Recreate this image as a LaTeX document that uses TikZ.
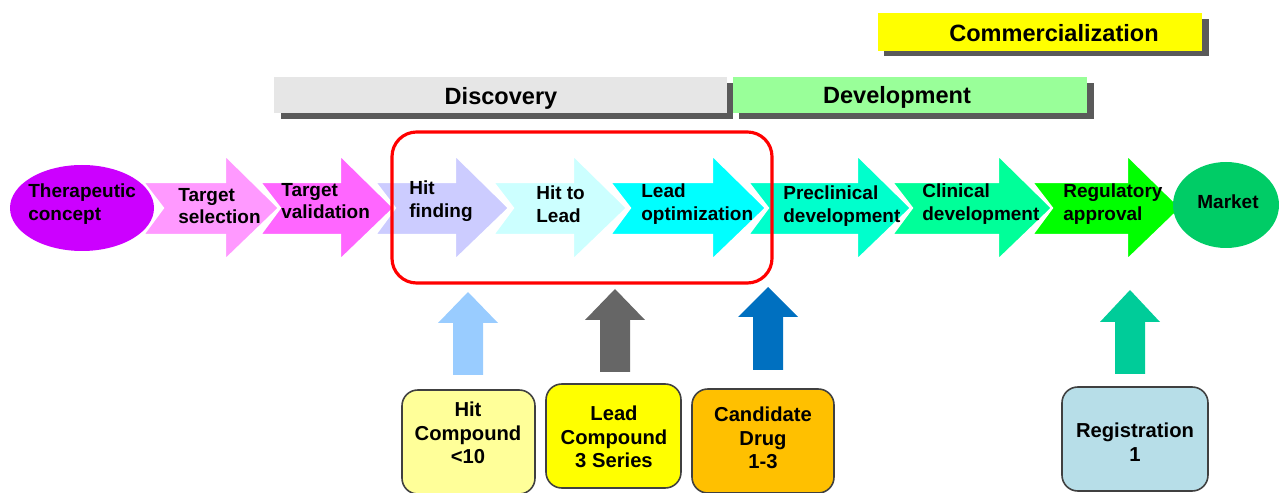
\documentclass[tikz,border=0pt]{standalone}
\usepackage{fontspec}
\setmainfont{Liberation Sans}

\definecolor{conceptcol}{HTML}{CC00FF}
\definecolor{selcol}{HTML}{FF99FF}
\definecolor{valcol}{HTML}{FF66FF}
\definecolor{hitcol}{HTML}{CCCCFF}
\definecolor{h2lcol}{HTML}{CCFFFF}
\definecolor{optcol}{HTML}{00FFFF}
\definecolor{precol}{HTML}{00FFCC}
\definecolor{clincol}{HTML}{00FF99}
\definecolor{regcol}{HTML}{00FF00}
\definecolor{marketcol}{HTML}{00CC66}
\definecolor{discol}{HTML}{E6E6E6}
\definecolor{devcol}{HTML}{99FF99}
\definecolor{comcol}{HTML}{FFFF00}
\definecolor{shadowcol}{HTML}{5A5A5A}
\definecolor{uphit}{HTML}{99CCFF}
\definecolor{uplead}{HTML}{666666}
\definecolor{upcand}{HTML}{0070C0}
\definecolor{upreg}{HTML}{00CC99}
\definecolor{hitbox}{HTML}{FFFF99}
\definecolor{leadbox}{HTML}{FFFF00}
\definecolor{candbox}{HTML}{FFC000}
\definecolor{regbox}{HTML}{B7DEE8}

\begin{document}
\begin{tikzpicture}[x=0.02cm,y=-0.02cm,
    steplabel/.style={font=\fontsize{10.8}{13}\selectfont\bfseries, align=left, anchor=west, inner sep=0pt},
    phaselabel/.style={font=\fontsize{13.4}{16}\selectfont\bfseries, inner sep=0pt},
    cardlabel/.style={font=\fontsize{11.5}{13.4}\selectfont\bfseries, align=center, inner sep=0pt},
    cardbox/.style={draw=black!75, line width=0.9pt, rounded corners=9pt}]

    % Fix the page size
    \clip (0,0) rectangle (1279,493);

    % Phase bars with their shadows
    \fill[shadowcol] (884,19) rectangle (1209,56);
    \fill[comcol] (878,13) rectangle (1202,51);
    \fill[shadowcol] (281,83) rectangle (733,119);
    \fill[discol] (274,77) rectangle (727,113);
    \fill[shadowcol] (739,83) rectangle (1094,119);
    \fill[devcol] (733,77) rectangle (1087,113);

    \node[phaselabel] (commercial) at (1054,33) {Commercialization};
    \node[phaselabel] (discovery) at (501,98) {Discovery};
    \node[phaselabel] (development) at (897,97) {Development};

    % Chevron arrows of the pipeline
    \foreach \l/\h/\tx/\ty/\col/\nm/\txt in {
        143/225/178/206/selcol/selection/{Target\\selection},
        260/340/281/201/valcol/validation/{Target\\validation},
        375/455/409/201/hitcol/hitfinding/{Hit\\finding},
        493/573/536/204/h2lcol/hittolead/{Hit to\\Lead},
        610/712/641/204/optcol/leadopt/{Lead\\optimization},
        748/857/783/206/precol/preclinical/{Preclinical\\development},
        892/998/922/204/clincol/clinical/{Clinical\\development},
        1032/1127/1063/204/regcol/regulatory/{Regulatory\\approval}} {
        \filldraw[fill=\col, draw=white, line width=1.2pt]
            (\l,182) -- (\h,182) -- (\h,155) -- (\h+54,208) -- (\h,260)
            -- (\h,235) -- (\l,235) -- (\l+20,208) -- cycle;
        \node[steplabel] (\nm) at (\tx,\ty) {\txt};
    }

    % Start and end of the pipeline
    \fill[conceptcol] (82,208) ellipse [x radius=72, y radius=43];
    \node[steplabel] (concept) at (28,204) {Therapeutic\\concept};
    \fill[marketcol] (1226,205) ellipse [x radius=53, y radius=43];
    \node[steplabel, anchor=center] (market) at (1228,202) {Market};

    % Red frame round the early discovery steps
    \draw[red, line width=1.8pt, rounded corners=14pt] (392,132) rectangle (772,283);

    % Block arrows pointing up
    \foreach \cx/\top/\base/\bot/\col in {
        468/292/323/375/uphit, 615/289/320/372/uplead,
        768/287/317/370/upcand, 1130/290/322/374/upreg} {
        \fill[\col] (\cx-15,\bot) -- (\cx-15,\base) -- (\cx-30,\base) -- (\cx,\top)
            -- (\cx+30,\base) -- (\cx+15,\base) -- (\cx+15,\bot) -- cycle;
    }

    % Milestone boxes
    \filldraw[cardbox, fill=hitbox] (402,390) rectangle (535,494);
    \node[cardlabel] (hitcpd) at (468,433) {Hit\\Compound\\<10};
    \filldraw[cardbox, fill=leadbox] (546,384) rectangle (681,488);
    \node[cardlabel] (leadcpd) at (614,437) {Lead\\Compound\\3 Series};
    \filldraw[cardbox, fill=candbox] (692,389) rectangle (834,493);
    \node[cardlabel] (candidate) at (763,438) {Candidate\\Drug\\1-3};
    \filldraw[cardbox, fill=regbox] (1062,387) rectangle (1208,491);
    \node[cardlabel] (registration) at (1135,442) {Registration\\1};

\end{tikzpicture}
\end{document}
